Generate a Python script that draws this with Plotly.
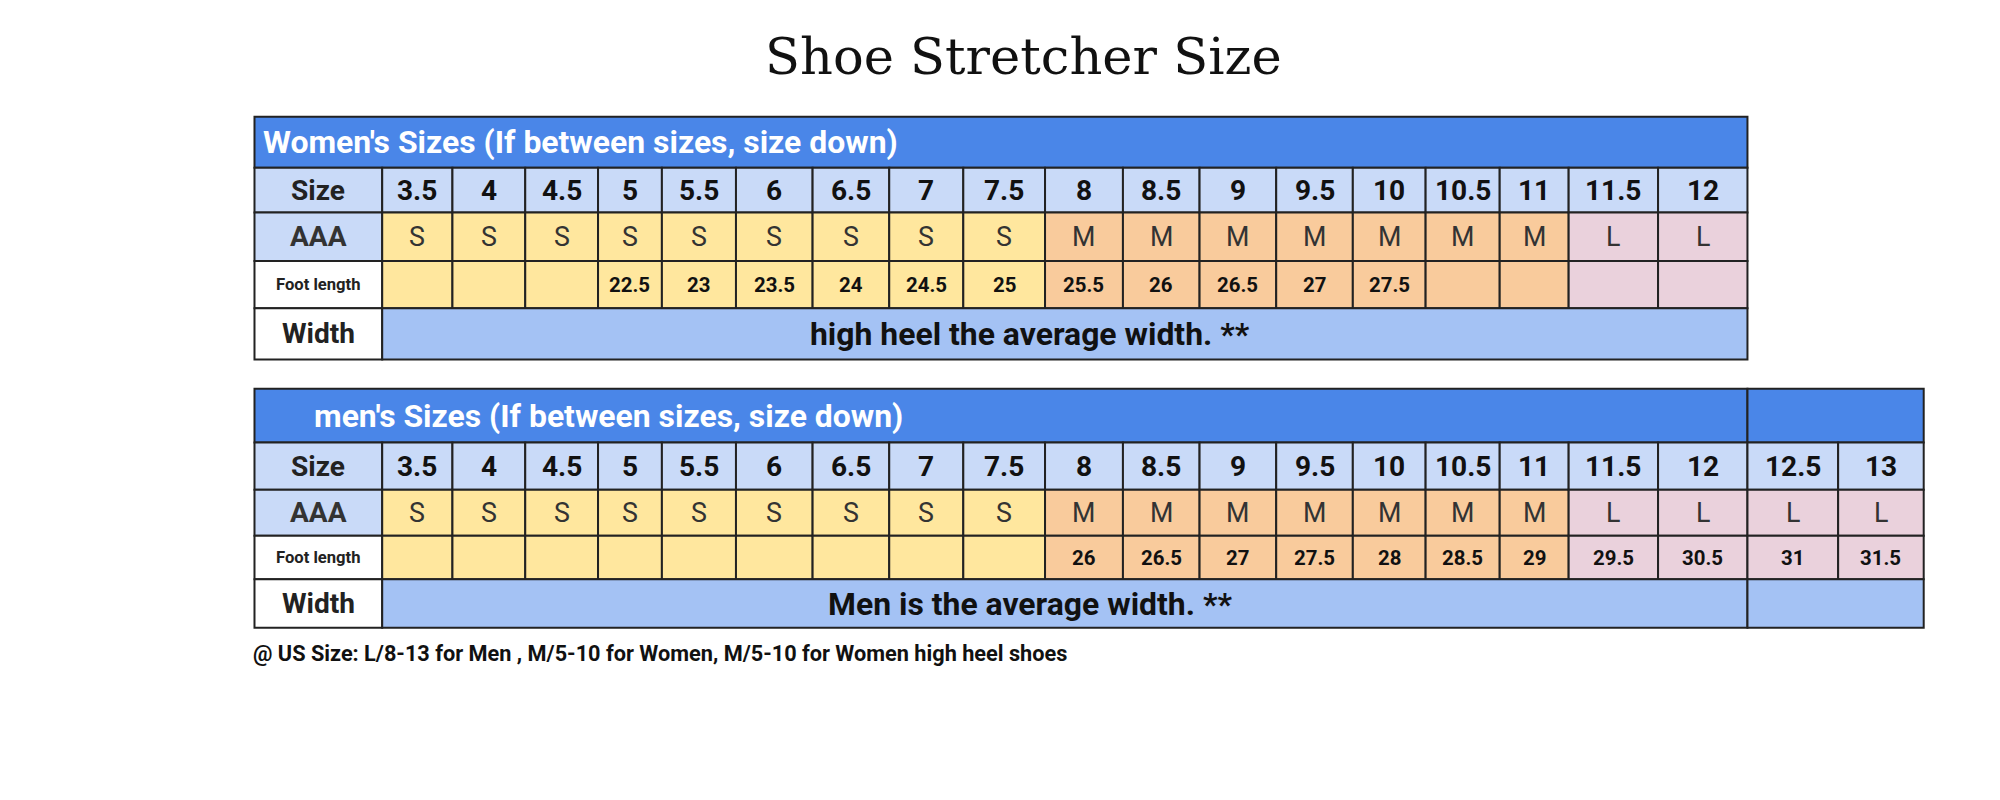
import plotly.graph_objects as go

# sizes and their stretcher category
women_sizes = ["3.5", "4", "4.5", "5", "5.5", "6", "6.5", "7", "7.5", "8", "8.5", "9",
               "9.5", "10", "10.5", "11", "11.5", "12"]
women_aaa = ["S"] * 9 + ["M"] * 7 + ["L"] * 2
women_foot = ["", "", "", "22.5", "23", "23.5", "24", "24.5", "25", "25.5", "26", "26.5",
              "27", "27.5", "", "", "", ""]
men_sizes = women_sizes + ["12.5", "13"]
men_aaa = ["S"] * 9 + ["M"] * 7 + ["L"] * 4
men_foot = [""] * 9 + ["26", "26.5", "27", "27.5", "28", "28.5", "29", "29.5", "30.5",
                       "31", "31.5"]

# column edges (layout units, 1566 wide canvas)
edges = [193, 293, 348, 405, 462, 512, 570, 630, 690, 748, 812, 873, 933, 993, 1053,
         1110, 1168, 1222, 1292, 1362, 1433, 1500]

BLUE = "#4a86e8"
SIZEBG = "#c9daf8"
WIDTHBG = "#a4c2f4"
CAT = {"S": "#ffe79e", "M": "#f9cb9c", "L": "#ead1dc"}
FONT = "Roboto"
K = 2000 / 1566  # font scale

fig = go.Figure()
shapes, ann = [], []


def rect(x0, x1, y0, y1, color):
    shapes.append(dict(type="rect", x0=x0, x1=x1, y0=y0, y1=y1, fillcolor=color,
                       line=dict(color="#222", width=2), layer="below"))


def txt(x, y, s, size, color="#111", bold=True, xanchor="center", fam=FONT):
    ann.append(dict(x=x, y=y, text=f"<b>{s}</b>" if bold else s, showarrow=False,
                    xanchor=xanchor, font=dict(size=size * K, color=color, family=fam)))


def table(y, sizes, aaa, foot, title, title_x, width_text):
    right_main = edges[19]
    right = edges[len(sizes) + 1]
    rect(edges[0], right_main, y[0], y[1], BLUE)
    if right > right_main:
        rect(right_main, right, y[0], y[1], BLUE)
    txt(title_x, (y[0] + y[1]) / 2, title, 25, "white", xanchor="left")
    labels = ["Size", "AAA", "Foot length", "Width"]
    lsize = [22, 22, 13, 22]
    for r in range(4):
        rect(edges[0], edges[1], y[r + 1], y[r + 2], SIZEBG if r < 2 else "white")
        txt((edges[0] + edges[1]) / 2, (y[r + 1] + y[r + 2]) / 2, labels[r], lsize[r],
            "#222" if r != 1 else "#333")
    for i, s in enumerate(sizes):
        x0, x1 = edges[i + 1], edges[i + 2]
        xc = (x0 + x1) / 2
        rect(x0, x1, y[1], y[2], SIZEBG)
        txt(xc, (y[1] + y[2]) / 2, s, 22)
        rect(x0, x1, y[2], y[3], CAT[aaa[i]])
        txt(xc, (y[2] + y[3]) / 2, aaa[i], 21, "#333", bold=False)
        rect(x0, x1, y[3], y[4], CAT[aaa[i]])
        if foot[i]:
            txt(xc, (y[3] + y[4]) / 2, foot[i], 16)
    rect(edges[1], right_main, y[4], y[5], WIDTHBG)
    if right > right_main:
        rect(right_main, right, y[4], y[5], WIDTHBG)
    txt(800, (y[4] + y[5]) / 2, width_text, 25)


table([85, 125, 160, 198, 235, 275], women_sizes, women_aaa, women_foot,
      "Women's Sizes (If between sizes, size down)", 198,
      "high heel the average width. **")
table([298, 340, 377, 413, 447, 485], men_sizes, men_aaa, men_foot,
      "men's Sizes (If between sizes, size down)", 238,
      "Men is the average width. **")

txt(795, 38, "Shoe Stretcher Size", 40, "#111", bold=False, fam="DejaVu Serif")
txt(190, 505, "@ US Size: L/8-13 for Men , M/5-10 for Women, M/5-10 for Women high heel shoes",
    17, "#111", xanchor="left")

fig.update_layout(
    width=2000, height=800, margin=dict(l=0, r=0, t=0, b=0),
    plot_bgcolor="white", paper_bgcolor="white", showlegend=False,
    xaxis=dict(range=[0, 1566], visible=False),
    yaxis=dict(range=[626, 0], visible=False),
    shapes=shapes, annotations=ann,
)
fig.write_html("out.html")
